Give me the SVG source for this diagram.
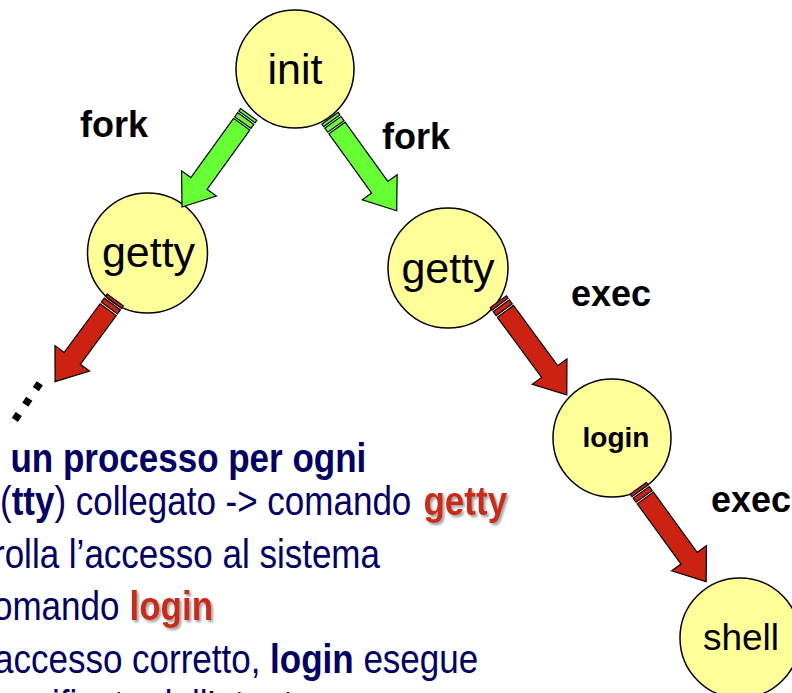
<svg xmlns="http://www.w3.org/2000/svg" width="792" height="693" viewBox="0 0 792 693">
  <style>
    .node { fill: #FFFF99; stroke: #000; stroke-width: 1.5; }
    .nlabel { font-family: "Liberation Sans", Arial, sans-serif; fill: #000; text-anchor: middle; }
    .elabel { font-family: "Liberation Sans", Arial, sans-serif; font-weight: bold; font-size: 36px; fill: #000; }
    .fork { fill: #66FF33; stroke: #000; stroke-width: 1.2; stroke-linejoin: miter; }
    .exec { fill: #CC2211; stroke: #000; stroke-width: 1.2; stroke-linejoin: miter; }
    .body { font-family: "Liberation Sans", Arial, sans-serif; font-size: 35px; fill: #000066; }
    .b { font-weight: bold; }
    .hot { font-family: "Liberation Sans", Arial, sans-serif; font-size: 35px; font-weight: bold; fill: #CC2A14; filter: url(#shadow); }
  </style>
  <defs>
    <filter id="shadow" x="-10%" y="-20%" width="130%" height="150%">
      <feDropShadow dx="2" dy="2" stdDeviation="0.8" flood-color="#999999" flood-opacity="0.9"/>
    </filter>
  </defs>

  <rect width="792" height="693" fill="#fff"/>

  <!-- process nodes -->
  <g id="init">
    <circle class="node" cx="295" cy="69" r="59"/>
    <text class="nlabel" x="295" y="84" font-size="43">init</text>
  </g>
  <g id="getty-left">
    <circle class="node" cx="147.5" cy="253" r="60"/>
    <text class="nlabel" x="148.5" y="267" font-size="43">getty</text>
  </g>
  <g id="getty-right">
    <circle class="node" cx="448" cy="268" r="60"/>
    <text class="nlabel" x="448" y="283" font-size="43">getty</text>
  </g>
  <g id="login">
    <circle class="node" cx="612" cy="438" r="59"/>
    <text class="nlabel" x="616" y="447" font-size="28" font-weight="bold">login</text>
  </g>
  <g id="shell">
    <circle class="node" cx="740" cy="638" r="60"/>
    <text class="nlabel" x="741" y="650" font-size="37">shell</text>
  </g>

  <!-- striped block arrows: tail at origin, pointing along +x -->
  <g id="connectors">
    <g class="fork" transform="translate(248.7,114.5) rotate(125.8)">
      <rect x="0" y="-10" width="3" height="20"/>
      <rect x="5" y="-10" width="5" height="20"/>
      <polygon points="12,-10 85,-10 85,-21.5 114,0 85,21.5 85,10 12,10"/>
    </g>
    <g class="fork" transform="translate(330,118.3) rotate(54.2)">
      <rect x="0" y="-10" width="3" height="20"/>
      <rect x="5" y="-10" width="5" height="20"/>
      <polygon points="12,-10 85,-10 85,-21.5 114,0 85,21.5 85,10 12,10"/>
    </g>
    <g class="exec" transform="translate(115.3,300) rotate(126.4)">
      <rect x="0" y="-10" width="3" height="20"/>
      <rect x="5" y="-10" width="5" height="20"/>
      <polygon points="12,-10 72.5,-10 72.5,-21.5 101.5,0 72.5,21.5 72.5,10 12,10"/>
    </g>
    <g class="exec" transform="translate(498.3,301.7) rotate(53.7)">
      <rect x="0" y="-10" width="3" height="20"/>
      <rect x="5" y="-10" width="5" height="20"/>
      <polygon points="12,-10 86.7,-10 86.7,-21.5 115.7,0 86.7,21.5 86.7,10 12,10"/>
    </g>
    <g class="exec" transform="translate(638.3,488.3) rotate(54)">
      <rect x="0" y="-10" width="3" height="20"/>
      <rect x="5" y="-10" width="5" height="20"/>
      <polygon points="12,-10 86.4,-10 86.4,-21.5 115.4,0 86.4,21.5 86.4,10 12,10"/>
    </g>
  </g>

  <!-- edge labels -->
  <text class="elabel" x="80" y="137">fork</text>
  <text class="elabel" x="382" y="149">fork</text>
  <text class="elabel" x="571" y="306">exec</text>
  <text class="elabel" x="711" y="512">exec</text>

  <!-- continuation dots below the left getty -->
  <text transform="translate(17.3,416.7) rotate(-55.9)" x="-7.5" y="3.5" font-family="Liberation Sans, Arial, sans-serif" font-weight="bold" font-size="50" letter-spacing="4.8" fill="#000">...</text>

  <!-- explanatory text (glyphs slightly tall: scaled 1.14 vertically) -->
  <text class="body b" transform="translate(10.5,471.7) scale(1,1.14)">un processo per ogni</text>
  <text class="body" transform="translate(0,515) scale(1,1.14)">(<tspan class="b">tty</tspan>) collegato -&gt; comando </text>
  <text class="hot" transform="translate(423.5,515) scale(1,1.14)">getty</text>
  <text class="body" transform="translate(-7,567.7) scale(1,1.14)">rolla l’accesso al sistema</text>
  <text class="body" transform="translate(-7,620) scale(1,1.14)">omando </text>
  <text class="hot" transform="translate(129.5,620) scale(1,1.14)">login</text>
  <text class="body" transform="translate(-6,673.3) scale(1,1.14)">accesso corretto, <tspan class="b">login</tspan> esegue</text>
  <text class="body" transform="translate(-22,719) scale(1,1.14)">specificato dall’utente</text>
</svg>
